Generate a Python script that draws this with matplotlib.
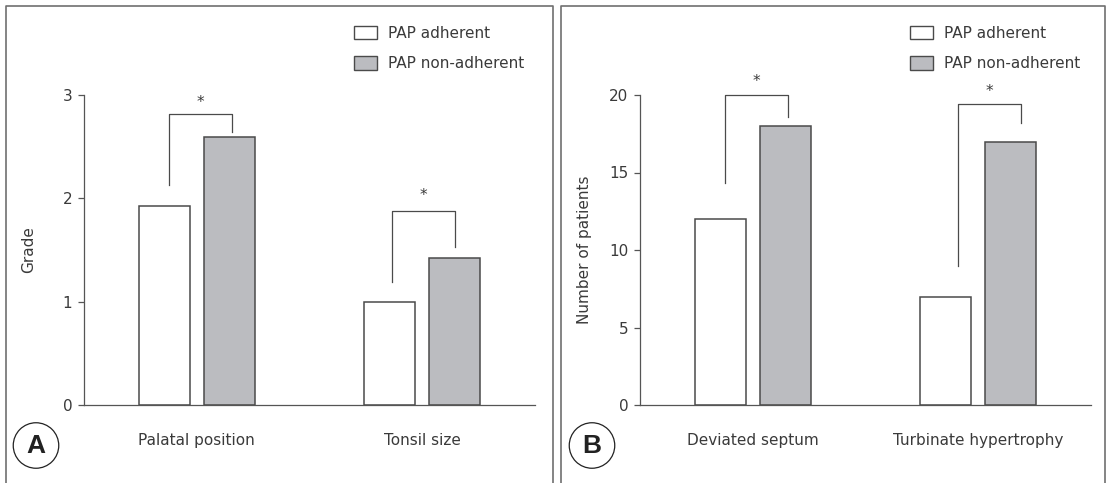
import numpy as np
import matplotlib
matplotlib.use('Agg')
from matplotlib import pyplot as plt
from matplotlib.lines import Line2D
from matplotlib.patches import Ellipse, Patch

# data
series = ['PAP adherent', 'PAP non-adherent']
cats_a = ['Palatal position', 'Tonsil size']
adherent_a = [1.93, 1.0]
nonadherent_a = [2.59, 1.42]
cats_b = ['Deviated septum', 'Turbinate hypertrophy']
adherent_b = [12, 7]
nonadherent_b = [18, 17]

# significance brackets: (x left, x right, y left end, y top, y right end, star y)
brackets_a = [(-0.123, 0.157, 2.13, 2.82, 2.645, 2.93),
              (-0.135, 0.144, 1.19, 1.88, 1.53, 2.03)]
brackets_b = [(-0.121, 0.156, 14.3, 20.0, 18.6, 20.9),
              (-0.090, 0.191, 9.0, 19.45, 18.2, 20.25)]

W, H = 1111, 483
txt = '#3a3a3a'
edge = '#4a4a4a'
gray = '#bbbcc0'
fs = 11
plt.rcParams['font.family'] = ['DejaVu Sans']
plt.rcParams['font.size'] = fs

fig = plt.figure(figsize=(W / 100, H / 100), dpi=100)


def px(x, y):
    return x / W, 1 - y / H


def panel(x0, cats, adh, nonadh, ymax, yticks, ylabel, brackets, letter, frame):
    ax = fig.add_axes([x0 / W, (H - 405) / H, 451 / W, 310 / H])
    x = np.arange(len(cats))
    bw = 0.226
    off = 0.144
    ax.bar(x - off, adh, bw, color='white', edgecolor=edge, linewidth=1.1)
    ax.bar(x + off, nonadh, bw, color=gray, edgecolor=edge, linewidth=1.1)
    ax.set_xlim(-0.5, 1.5)
    ax.set_ylim(0, ymax)
    ax.set_yticks(yticks)
    ax.set_xticks(x)
    ax.set_xticklabels(cats, color=txt, fontsize=fs)
    ax.tick_params(axis='x', length=0, pad=20)
    ax.tick_params(axis='y', length=4.5, width=0.9, color='#555555',
                   labelcolor=txt, labelsize=fs, pad=4)
    for s in ['top', 'right']:
        ax.spines[s].set_visible(False)
    for s in ['left', 'bottom']:
        ax.spines[s].set_color('#555555')
        ax.spines[s].set_linewidth(0.9)
    ax.text(-0.122, 0.5, ylabel, transform=ax.transAxes, rotation=90,
            ha='center', va='center', color=txt, fontsize=fs)

    for g, (xl, xr, yl, yt, yr, ys) in enumerate(brackets):
        ax.plot([g + xl, g + xl, g + xr, g + xr], [yl, yt, yt, yr],
                color=edge, linewidth=0.9, clip_on=False)
        ax.text(g + (xl + xr) / 2, ys, '*', ha='center', va='center',
                color=txt, fontsize=11)

    handles = [Patch(facecolor='white', edgecolor=edge, linewidth=1.0),
               Patch(facecolor=gray, edgecolor=edge, linewidth=1.0)]
    fig.legend(handles, series, loc='upper left', frameon=False,
               bbox_to_anchor=px(x0 + 269.6, 26), borderpad=0,
               borderaxespad=0, handlelength=1.5, handleheight=0.95,
               handletextpad=0.75, labelspacing=1.0, fontsize=fs,
               labelcolor=txt)

    # panel frame
    fl, fr = frame
    fig.add_artist(Line2D([fl / W, fl / W, fr / W, fr / W],
                          [-0.01, 1 - 5.5 / H, 1 - 5.5 / H, -0.01],
                          color='#707070', linewidth=1.2))
    # letter badge
    cx, cy = px(x0 - 48, 445.5)
    fig.add_artist(Ellipse((cx, cy), 45.5 / W, 45.5 / H, facecolor='white',
                           edgecolor='#222222', linewidth=0.9))
    fig.text(cx, cy - 0.5 / H, letter, ha='center', va='center',
             fontsize=19, fontweight='bold', family='Liberation Sans',
             color='#222222')
    return ax


panel(84, cats_a, adherent_a, nonadherent_a, 3, [0, 1, 2, 3], 'Grade',
      brackets_a, 'A', (6, 553.3))
panel(640, cats_b, adherent_b, nonadherent_b, 20, [0, 5, 10, 15, 20],
      'Number of patients', brackets_b, 'B', (560.7, 1105.3))

fig.savefig('out.png', dpi=100)
